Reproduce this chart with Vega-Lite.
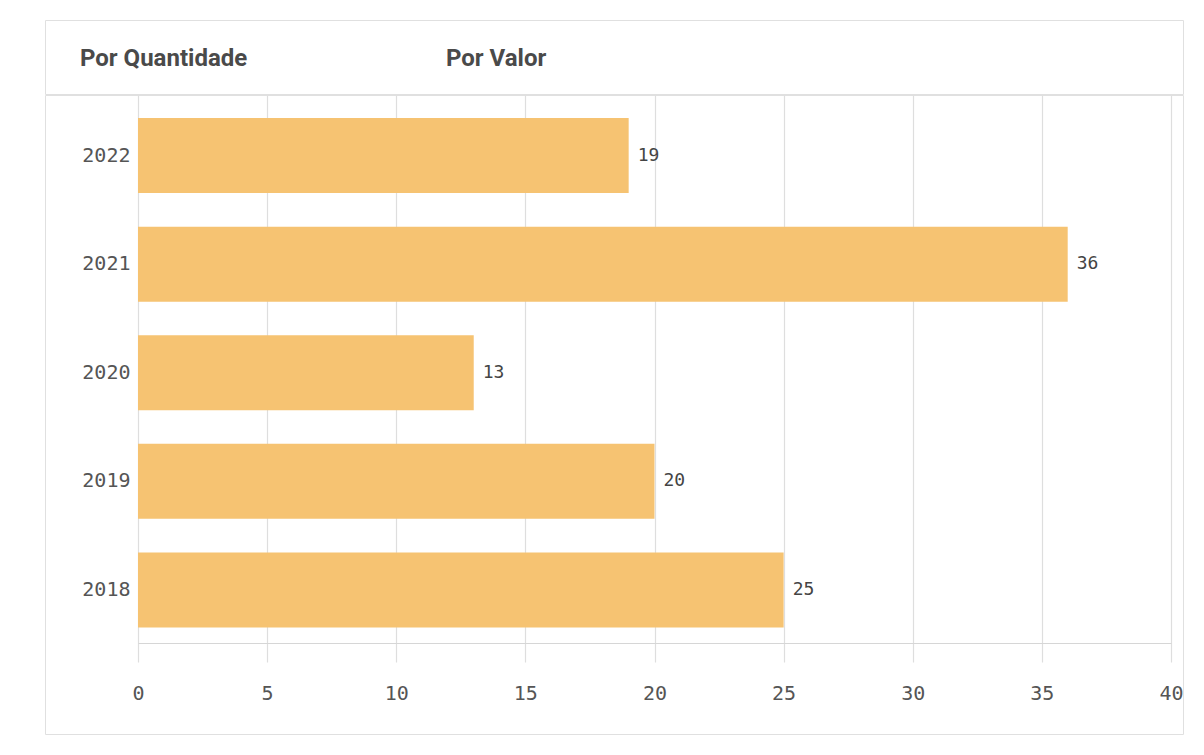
{
  "$schema": "https://vega.github.io/schema/vega-lite/v6.json",
  "background": "white",
  "padding": {"left": 44, "top": 19, "right": 0, "bottom": 0},
  "spacing": -3,
  "config": {
    "view": {"stroke": "#e0e0e0", "strokeWidth": 1}
  },
  "datasets": {
    "tabs": [{"tab": "Por Quantidade"}, {"tab": "Por Valor"}],
    "years": [
      {"ano": "2022", "qtd": 19},
      {"ano": "2021", "qtd": 36},
      {"ano": "2020", "qtd": 13},
      {"ano": "2019", "qtd": 20},
      {"ano": "2018", "qtd": 25}
    ]
  },
  "vconcat": [
    {
      "width": 1138,
      "height": 74,
      "data": {"name": "tabs"},
      "mark": {"type": "text", "align": "left", "baseline": "middle", "dy": 2, "font": "Roboto", "fontWeight": "bold", "fontSize": 24, "color": "#4a4a4a"},
      "encoding": {
        "x": {"field": "tab", "type": "nominal", "scale": {"type": "point", "domain": ["Por Quantidade", "Por Valor"], "range": [35, 401], "padding": 0}, "axis": null},
        "text": {"field": "tab"}
      }
    },
    {
      "width": 1138,
      "height": 639,
      "data": {"name": "years"},
      "encoding": {
        "y": {
          "field": "ano", "type": "nominal", "sort": ["2022", "2021", "2020", "2019", "2018"],
          "scale": {"range": [0, 567], "paddingInner": 0.3094, "paddingOuter": 0.265, "align": 0.4},
          "axis": {"title": null, "orient": "left", "offset": -93, "domain": false, "ticks": false, "grid": false, "labelPadding": 8, "labelFont": "DejaVu Sans Mono", "labelFontSize": 20, "labelColor": "#555555"}
        },
        "x": {
          "field": "qtd", "type": "quantitative",
          "scale": {"domain": [0, 40], "range": [93, 1126], "nice": false}
        }
      },
      "layer": [
        {
          "mark": {"type": "bar", "color": "#F6C372"},
          "encoding": {
            "x": {"field": "qtd", "type": "quantitative",
              "axis": {"title": null, "orient": "top", "values": [0, 5, 10, 15, 20, 25, 30, 35, 40], "grid": false, "labels": false, "domain": false, "ticks": true, "tickSize": -567, "tickColor": "#dedede", "tickWidth": 1.2, "minExtent": 0, "maxExtent": 0}
            }
          }
        },
        {
          "mark": {"type": "text", "align": "left", "baseline": "middle", "dx": 9, "font": "DejaVu Sans Mono", "fontSize": 18, "color": "#444444"},
          "encoding": {
            "x": {"field": "qtd", "type": "quantitative",
              "axis": {"title": null, "orient": "bottom", "offset": -91, "values": [0, 5, 10, 15, 20, 25, 30, 35, 40], "grid": false, "ticks": false, "domain": true, "domainColor": "#d6d6d6", "domainWidth": 1.2, "labelPadding": 40, "labelFont": "DejaVu Sans Mono", "labelFontSize": 20, "labelColor": "#555555", "labelFlush": false, "minExtent": 0, "maxExtent": 0}
            },
            "text": {"field": "qtd", "type": "quantitative"}
          }
        }
      ],
      "resolve": {"axis": {"x": "independent"}}
    }
  ]
}
